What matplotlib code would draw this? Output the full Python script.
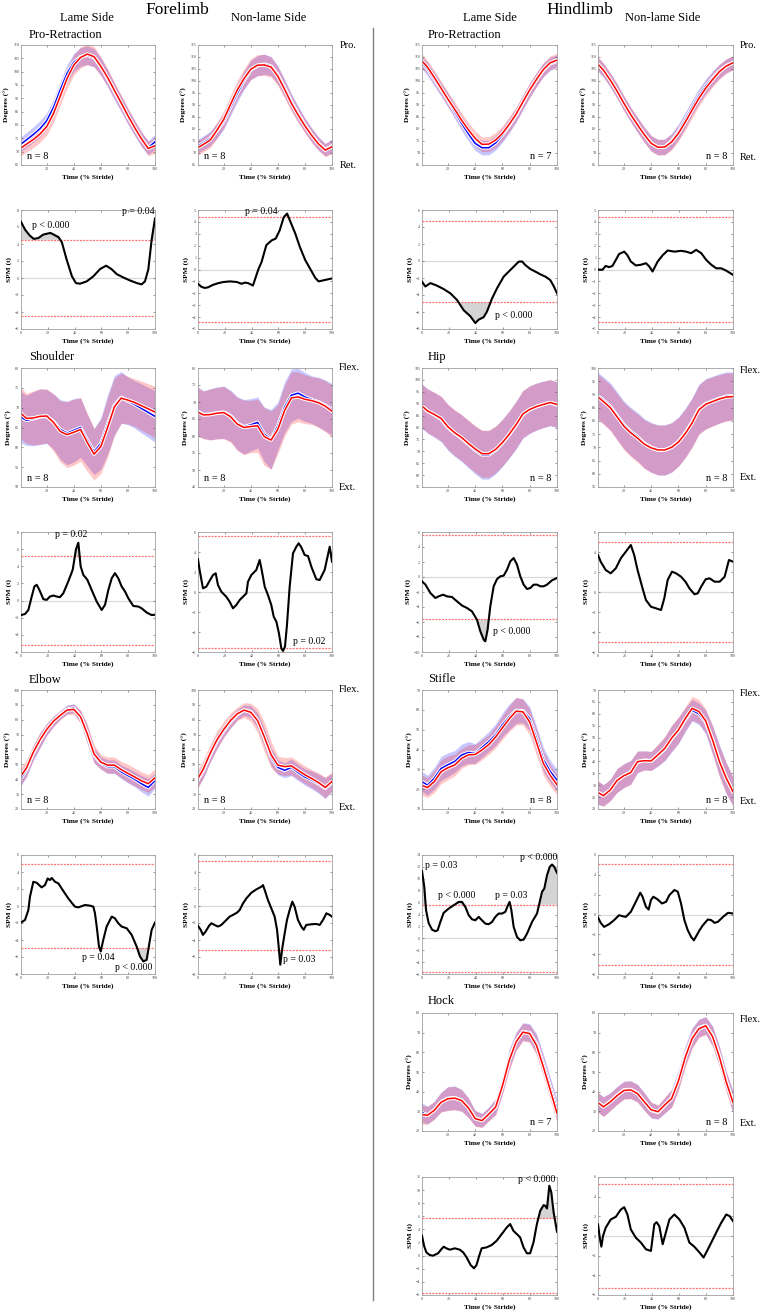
import numpy as np
import matplotlib
matplotlib.use("Agg")
import matplotlib.pyplot as plt
import matplotlib.patheffects as pe
from matplotlib.lines import Line2D

plt.rcParams['font.family'] = ['Liberation Serif', 'DejaVu Serif']

# ------------------------------------------------------------------ data
stride = [0, 5, 10, 15, 20, 25, 30, 35, 40, 45, 50, 55, 60, 65, 70, 75, 80, 85, 90, 95, 100]

# Forelimb pro-retraction
fl_pro_lame_blue = [72.5, 74.4, 76.4, 78.6, 81.6, 86.6, 93.2, 99.3, 103.5, 105.6, 106.2, 105.2, 101.9, 97.5, 92.5, 87.9, 83.1, 78.8, 74.6, 71.5, 73.7]
fl_pro_lame_red = [71.0, 72.8, 74.5, 76.6, 79.4, 84.3, 90.8, 97.4, 102.5, 105.3, 106.6, 105.6, 102.0, 97.8, 93.0, 88.3, 83.5, 79.0, 74.8, 71.2, 72.2]
fl_pro_lame_sd_blue = [2.8, 2.8, 2.9, 3.0, 3.0, 3.1, 3.2, 3.3, 3.4, 3.5, 3.5, 3.4, 3.3, 3.2, 3.1, 3.0, 2.9, 2.8, 2.7, 2.6, 2.8]
fl_pro_lame_sd_red = [2.9, 2.9, 3.0, 3.1, 3.2, 3.3, 3.4, 3.6, 3.8, 3.9, 4.0, 3.8, 3.5, 3.3, 3.1, 3.0, 2.9, 2.8, 2.7, 2.7, 2.9]
fl_pro_sound_blue = [72.6, 74.2, 76.1, 79.3, 83.1, 89.0, 94.9, 100.2, 104.6, 106.4, 107.0, 106.2, 102.5, 97.2, 91.4, 86.3, 81.7, 77.5, 74.0, 71.4, 73.0]
fl_pro_sound_red = [71.9, 73.6, 75.4, 79.5, 84.0, 90.2, 96.3, 101.0, 104.9, 106.6, 106.7, 105.8, 102.0, 96.5, 90.7, 85.8, 81.3, 77.3, 73.8, 71.2, 72.6]
fl_pro_sound_sd_blue = [2.8, 2.9, 3.0, 3.1, 3.2, 3.4, 3.6, 3.8, 4.0, 4.2, 4.2, 4.0, 3.8, 3.6, 3.4, 3.2, 3.0, 2.9, 2.8, 2.6, 2.8]
fl_pro_sound_sd_red = [3.0, 3.1, 3.2, 3.3, 3.5, 3.7, 3.9, 4.1, 4.3, 4.4, 4.4, 4.2, 4.0, 3.7, 3.4, 3.2, 3.0, 2.9, 2.8, 2.7, 3.0]

# Hindlimb pro-retraction
hl_pro_lame_blue = [108.3, 105.0, 100.7, 96.5, 92.1, 87.2, 82.4, 78.0, 74.0, 72.2, 72.2, 74.2, 77.5, 81.5, 85.8, 91.0, 96.2, 100.6, 104.6, 107.2, 108.3]
hl_pro_lame_red = [109.0, 105.8, 101.5, 97.0, 92.4, 88.2, 83.7, 79.7, 76.1, 73.6, 73.7, 75.4, 78.2, 82.0, 86.2, 91.3, 96.3, 100.7, 104.8, 107.6, 108.7]
hl_pro_lame_sd_blue = [2.6, 2.7, 2.8, 2.8, 2.9, 2.9, 3.0, 3.0, 3.0, 3.0, 3.0, 3.0, 3.0, 3.0, 3.0, 3.0, 3.0, 2.9, 2.8, 2.7, 2.6]
hl_pro_lame_sd_red = [2.8, 2.8, 2.9, 2.9, 3.0, 3.0, 3.0, 3.0, 3.1, 3.1, 3.1, 3.1, 3.1, 3.1, 3.0, 3.0, 3.0, 3.0, 2.9, 2.9, 2.8]
hl_pro_sound_blue = [107.6, 104.5, 100.4, 95.8, 90.7, 86.0, 81.7, 77.6, 74.0, 72.4, 72.6, 75.0, 78.9, 83.8, 89.0, 93.8, 97.9, 101.2, 104.1, 106.3, 107.6]
hl_pro_sound_red = [107.6, 104.5, 100.4, 95.8, 90.7, 86.0, 81.7, 77.6, 74.0, 72.4, 72.5, 74.6, 78.2, 82.9, 87.9, 92.8, 97.0, 100.6, 103.9, 106.2, 107.6]
hl_pro_sound_sd_blue = [2.8, 2.8, 2.9, 3.0, 3.0, 3.0, 3.1, 3.1, 3.2, 3.2, 3.2, 3.2, 3.2, 3.2, 3.1, 3.1, 3.0, 3.0, 2.9, 2.9, 2.8]
hl_pro_sound_sd_red = [3.0, 3.0, 3.0, 3.1, 3.1, 3.1, 3.2, 3.2, 3.3, 3.3, 3.3, 3.3, 3.3, 3.3, 3.3, 3.2, 3.2, 3.1, 3.1, 3.0, 3.0]

# Shoulder
shoulder_lame_blue = [67.8, 66.8, 67.2, 67.7, 67.8, 66.5, 64.5, 63.6, 64.3, 65.0, 61.8, 58.9, 61.0, 65.8, 70.6, 72.6, 71.7, 70.8, 69.8, 68.8, 67.8]
shoulder_lame_red = [68.9, 67.3, 67.4, 67.8, 67.9, 66.3, 64.0, 63.2, 63.8, 64.5, 61.2, 58.3, 60.2, 65.0, 70.2, 72.4, 71.9, 71.3, 70.5, 69.7, 68.9]
shoulder_lame_sd_blue = [6.5, 6.3, 6.8, 7.0, 6.8, 7.0, 7.5, 8.0, 8.0, 7.5, 6.5, 5.8, 6.5, 7.5, 7.5, 6.5, 6.0, 6.0, 6.2, 6.3, 6.5]
shoulder_lame_sd_red = [6.5, 6.3, 6.8, 7.0, 6.8, 7.2, 7.7, 8.3, 8.3, 8.0, 7.3, 6.5, 6.8, 7.5, 7.3, 6.3, 6.0, 6.0, 6.2, 6.3, 6.5]
shoulder_sound_blue = [67.5, 66.3, 66.4, 66.8, 67.0, 66.0, 63.8, 62.7, 63.3, 64.0, 60.5, 59.0, 63.0, 68.5, 72.0, 72.6, 71.5, 70.7, 70.0, 69.0, 67.8]
shoulder_sound_red = [67.2, 66.2, 66.3, 66.7, 66.9, 65.7, 63.5, 62.5, 62.8, 63.0, 59.8, 58.8, 62.0, 67.5, 71.2, 71.5, 70.8, 70.4, 69.8, 68.8, 67.3]
shoulder_sound_sd_blue = [7.2, 7.0, 7.5, 7.6, 7.7, 7.5, 7.8, 8.0, 7.7, 7.5, 8.0, 8.8, 7.0, 7.5, 7.7, 7.3, 7.2, 7.0, 7.3, 7.5, 7.6]
shoulder_sound_sd_red = [7.2, 7.0, 7.5, 7.6, 7.7, 7.5, 7.8, 8.0, 7.7, 7.8, 8.5, 8.5, 7.2, 7.5, 7.7, 7.3, 7.2, 7.0, 7.3, 7.5, 7.6]

# Hip
hip_lame_blue = [89.5, 87.0, 85.3, 83.5, 80.0, 77.5, 75.5, 73.0, 70.5, 68.5, 68.5, 70.5, 73.5, 77.0, 81.0, 85.5, 87.5, 88.8, 89.7, 90.4, 89.5]
hip_lame_red = [89.5, 87.0, 85.5, 83.8, 80.3, 77.8, 75.8, 73.3, 71.0, 69.0, 69.0, 70.8, 73.7, 77.2, 81.2, 85.7, 87.6, 88.8, 89.7, 90.5, 89.7]
hip_lame_sd_blue = [9.3, 9.3, 9.4, 9.5, 9.6, 9.7, 9.8, 9.9, 10.0, 10.2, 10.2, 10.0, 9.9, 9.9, 10.0, 10.0, 10.0, 9.9, 9.8, 9.7, 9.6]
hip_lame_sd_red = [9.2, 9.2, 9.3, 9.4, 9.5, 9.6, 9.7, 9.8, 9.8, 9.9, 9.9, 9.8, 9.8, 9.8, 9.9, 9.9, 9.9, 9.8, 9.7, 9.6, 9.5]
hip_sound_blue = [90.0, 87.8, 85.5, 82.0, 78.5, 76.0, 74.0, 71.5, 70.0, 69.0, 69.0, 70.0, 72.2, 75.5, 79.5, 84.5, 86.5, 87.5, 88.5, 89.3, 89.5]
hip_sound_red = [89.5, 87.3, 85.0, 81.5, 78.0, 75.5, 73.5, 71.2, 69.8, 69.0, 69.0, 70.0, 72.0, 75.2, 79.2, 84.2, 86.3, 87.3, 88.3, 89.0, 89.2]
hip_sound_sd_blue = [8.8, 8.8, 8.9, 9.0, 9.0, 9.1, 9.2, 9.3, 9.4, 9.5, 9.5, 9.4, 9.3, 9.3, 9.3, 9.4, 9.5, 9.4, 9.3, 9.2, 9.0]
hip_sound_sd_red = [8.6, 8.6, 8.7, 8.8, 8.9, 9.0, 9.1, 9.2, 9.3, 9.4, 9.4, 9.3, 9.2, 9.2, 9.2, 9.3, 9.4, 9.3, 9.2, 9.1, 8.9]

# Elbow
elbow_lame_blue = [39.0, 46.5, 57.5, 66.0, 73.5, 79.0, 83.5, 87.0, 87.8, 82.0, 70.0, 56.0, 51.0, 48.5, 48.5, 45.0, 42.5, 40.0, 37.0, 34.5, 39.0]
elbow_lame_red = [41.0, 47.5, 58.0, 66.5, 73.5, 79.0, 83.0, 86.5, 87.0, 82.0, 70.5, 57.0, 51.5, 49.5, 49.5, 46.5, 44.0, 41.5, 39.0, 37.0, 41.0]
elbow_lame_sd_blue = [5.0, 5.0, 5.0, 5.0, 4.0, 3.5, 3.0, 3.0, 3.0, 4.0, 6.0, 5.0, 4.0, 4.5, 4.5, 4.5, 5.0, 5.0, 5.5, 6.0, 5.0]
elbow_lame_sd_red = [6.0, 5.5, 5.0, 5.0, 4.0, 3.5, 3.0, 3.0, 3.5, 4.5, 6.5, 6.0, 5.0, 5.5, 5.5, 5.5, 6.0, 6.0, 6.0, 6.0, 6.0]
elbow_sound_blue = [38.0, 46.0, 56.5, 65.5, 72.5, 78.5, 83.5, 86.5, 85.5, 79.5, 68.0, 55.0, 48.0, 46.0, 48.0, 44.5, 41.5, 39.5, 37.0, 34.0, 38.0]
elbow_sound_red = [39.0, 47.0, 57.5, 66.5, 73.5, 79.5, 84.0, 86.5, 85.0, 79.5, 68.5, 56.5, 49.5, 48.5, 49.0, 46.0, 43.0, 40.5, 37.8, 34.5, 38.5]
elbow_sound_sd_blue = [5.0, 5.0, 5.0, 5.0, 4.0, 4.0, 3.5, 3.5, 4.0, 5.0, 6.0, 6.0, 5.0, 5.0, 5.5, 5.5, 5.5, 6.0, 6.5, 7.0, 6.0]
elbow_sound_sd_red = [6.0, 6.0, 6.0, 6.0, 5.5, 5.0, 4.5, 5.0, 6.0, 8.0, 10.0, 9.0, 6.0, 6.0, 6.0, 6.0, 6.0, 6.0, 6.5, 7.0, 6.5]

# Stifle
stifle_lame_blue = [24.3, 22.0, 25.5, 30.5, 32.3, 34.0, 37.2, 38.5, 38.0, 41.0, 44.0, 47.5, 52.5, 56.5, 59.7, 59.5, 55.5, 45.5, 35.0, 29.0, 24.5]
stifle_lame_red = [22.2, 20.8, 23.8, 28.8, 30.8, 32.2, 35.5, 37.3, 37.5, 39.8, 42.5, 46.3, 51.0, 55.5, 59.3, 59.0, 53.8, 43.5, 33.0, 27.0, 22.2]
stifle_lame_sd_blue = [5.0, 5.0, 5.5, 6.0, 6.0, 5.5, 5.5, 5.5, 5.0, 5.0, 5.0, 5.5, 6.0, 6.5, 6.5, 6.0, 6.0, 6.0, 6.0, 5.5, 5.5]
stifle_lame_sd_red = [5.0, 5.0, 5.5, 6.0, 6.0, 5.5, 5.0, 5.0, 5.0, 5.0, 5.0, 5.5, 6.0, 6.5, 7.0, 6.5, 6.5, 6.5, 6.0, 5.5, 5.0]
stifle_sound_blue = [27.0, 25.8, 28.0, 32.0, 34.0, 35.5, 39.8, 40.5, 40.2, 42.5, 45.3, 49.5, 53.0, 57.5, 61.5, 60.0, 56.5, 49.0, 40.5, 33.0, 27.5]
stifle_sound_red = [27.3, 25.6, 28.0, 32.0, 34.0, 35.3, 39.9, 40.3, 40.2, 42.8, 45.5, 49.8, 53.2, 58.0, 62.3, 61.0, 57.0, 49.0, 40.0, 33.0, 27.3]
stifle_sound_sd_blue = [5.0, 4.5, 4.5, 5.0, 5.0, 5.0, 4.5, 4.0, 4.0, 4.5, 5.0, 5.5, 5.5, 5.0, 4.5, 4.5, 5.0, 6.0, 6.5, 6.5, 6.0]
stifle_sound_sd_red = [5.0, 4.5, 4.5, 5.0, 5.0, 5.0, 4.5, 4.0, 4.0, 4.5, 5.0, 5.5, 5.5, 5.0, 5.0, 5.0, 5.0, 6.0, 6.5, 6.5, 6.0]

# Hock
hock_lame_blue = [29.8, 28.0, 30.6, 34.8, 36.6, 36.9, 35.7, 32.0, 26.5, 25.5, 28.8, 32.5, 43.8, 56.8, 65.8, 70.6, 70.0, 64.5, 54.0, 42.5, 31.0]
hock_lame_red = [28.4, 28.0, 30.5, 34.6, 36.4, 36.7, 35.5, 31.8, 26.3, 25.3, 28.6, 32.2, 43.0, 56.0, 65.3, 70.3, 69.5, 63.5, 52.6, 41.0, 29.0]
hock_lame_sd_blue = [5.0, 4.5, 4.5, 5.0, 6.0, 6.0, 5.5, 5.0, 4.0, 3.5, 3.5, 4.0, 4.5, 5.0, 4.5, 4.5, 4.5, 5.0, 5.0, 5.0, 5.0]
hock_lame_sd_red = [5.0, 4.5, 4.5, 5.0, 6.0, 6.0, 5.5, 5.0, 4.0, 3.5, 3.5, 4.0, 4.5, 5.0, 4.5, 4.5, 4.5, 5.0, 5.0, 5.0, 5.0]
hock_sound_blue = [35.0, 32.5, 35.0, 38.2, 40.9, 41.1, 39.3, 35.0, 30.5, 29.5, 33.0, 36.8, 46.5, 58.5, 67.5, 72.5, 73.7, 68.5, 58.3, 45.5, 34.9]
hock_sound_red = [35.0, 32.3, 34.8, 38.0, 40.6, 40.9, 39.0, 34.8, 30.8, 29.8, 33.3, 36.5, 45.5, 57.5, 67.0, 72.0, 73.5, 68.0, 57.7, 45.0, 34.5]
hock_sound_sd_blue = [5.0, 5.0, 4.5, 4.5, 4.5, 4.5, 4.5, 4.5, 4.0, 3.5, 4.0, 4.5, 5.0, 5.0, 5.0, 4.5, 4.5, 5.0, 5.0, 5.0, 5.5]
hock_sound_sd_red = [5.0, 5.0, 4.5, 4.5, 4.5, 4.5, 4.5, 4.5, 4.0, 3.5, 4.0, 4.5, 5.0, 5.0, 5.0, 4.5, 4.5, 5.0, 5.0, 5.0, 5.5]

# SPM{t} curves
spm_fl_pro_lame_x = [0, 3, 6.5, 9.5, 13, 16.5, 19, 22, 24.5, 28, 30.5, 34, 38, 41, 44, 49, 54, 59, 63.5, 67.5, 71.5, 76.5, 81.5, 86.5, 90, 92.5, 95, 97.5, 100]
spm_fl_pro_lame_t = [6.6, 5.7, 5.0, 4.6, 4.7, 5.1, 5.2, 5.3, 5.1, 4.8, 4.2, 2.2, 0.2, -0.6, -0.67, -0.4, 0.2, 1.05, 1.45, 1.05, 0.45, 0.05, -0.3, -0.6, -0.75, -0.4, 1.0, 4.5, 7.0]
spm_fl_pro_sound_x = [0, 2.5, 5, 7.5, 11, 15, 19, 24, 29, 32.5, 35, 37.5, 41, 45, 47.5, 51, 55, 58, 61, 64, 66.5, 69, 72.5, 76, 80, 84, 87.5, 90, 94, 100]
spm_fl_pro_sound_t = [-1.2, -1.45, -1.55, -1.5, -1.3, -1.15, -1.05, -1.0, -1.05, -1.2, -1.1, -1.15, -1.35, 0.0, 0.65, 2.05, 2.45, 2.6, 3.3, 4.4, 4.7, 4.0, 3.05, 1.9, 0.8, 0.0, -0.7, -1.0, -0.9, -0.75]
spm_hl_pro_lame_x = [0, 2.5, 6.2, 11.1, 16, 21, 26, 30.9, 35.8, 39.5, 42, 45.7, 48.1, 51.9, 55.6, 60.5, 64.2, 67.9, 71.6, 74.1, 76.5, 80.2, 84, 87.7, 91.4, 95, 97.5, 100]
spm_hl_pro_lame_t = [-2.43, -3.0, -2.6, -2.9, -3.3, -3.8, -4.6, -5.8, -6.5, -7.3, -6.9, -6.6, -5.96, -4.4, -3.2, -1.84, -1.25, -0.67, -0.08, -0.05, -0.47, -0.94, -1.25, -1.57, -1.84, -2.24, -2.94, -3.8]
spm_hl_pro_sound_x = [0, 3.2, 5.7, 8.2, 10.7, 13.2, 15.6, 19.4, 21.8, 24.3, 28, 31.8, 35.5, 38, 40.4, 44.2, 47.9, 51.6, 56.6, 61.5, 65.3, 69, 72.7, 76.5, 80.2, 83.9, 87.6, 91.3, 95, 100]
spm_hl_pro_sound_t = [0.0, -0.03, 0.3, 0.2, 0.3, 0.8, 1.3, 1.5, 1.2, 0.67, 0.34, 0.4, 0.53, 0.25, -0.17, 0.67, 1.2, 1.6, 1.5, 1.57, 1.5, 1.37, 1.65, 1.37, 0.8, 0.4, 0.1, 0.1, -0.1, -0.45]
spm_shoulder_lame_x = [0, 3, 5.5, 8, 10, 11.7, 13.7, 16.7, 19.2, 21.6, 24.1, 26.6, 29.1, 31.6, 35.3, 38.6, 41, 42.8, 44.5, 46.5, 49.5, 52.7, 56.5, 60.2, 62.7, 65.2, 67.7, 70.1, 72.6, 75.1, 77.6, 80.1, 83.8, 87.6, 90, 93.8, 97.5, 100]
spm_shoulder_lame_t = [-1.69, -1.57, -1.1, 0.47, 1.65, 1.84, 1.25, 0.16, 0.08, 0.47, 0.59, 0.47, 0.4, 0.86, 2.24, 3.6, 5.96, 6.75, 4.0, 3.0, 2.43, 1.25, -0.12, -1.1, -0.5, 1.25, 2.6, 3.2, 2.6, 1.65, 1.06, 0.27, -0.63, -0.7, -0.9, -1.4, -1.69, -1.65]
spm_shoulder_sound_x = [0, 1.2, 3.7, 6.2, 8.7, 11.2, 13.2, 14.9, 17.4, 21.1, 23.6, 26.1, 28.6, 31.1, 33.6, 36.1, 37.3, 39.8, 43.5, 46, 47.3, 49.8, 52.2, 54.7, 56.5, 58.5, 60.4, 62.2, 63.4, 64.9, 66.4, 68.4, 70.9, 73.4, 75.1, 77.1, 79.6, 82.1, 84.6, 88.3, 90.8, 94.5, 98.3, 100]
spm_shoulder_sound_t = [3.27, 2.2, 0.37, 0.53, 1.13, 1.7, 1.87, 0.7, 0.03, -0.47, -0.97, -1.63, -1.3, -0.8, -0.47, -0.13, 1.03, 1.7, 2.2, 3.2, 2.37, 0.53, -0.3, -1.3, -2.47, -2.97, -4.13, -5.63, -5.9, -5.47, -3.3, 0.53, 3.87, 4.53, 4.87, 4.47, 3.7, 3.6, 2.53, 1.27, 1.2, 2.2, 4.53, 3.03]
spm_hip_lame_x = [0, 2.5, 6.2, 9.9, 12.3, 15.6, 18.5, 22.2, 25.9, 29.6, 33.3, 37, 40.7, 43.2, 45.7, 46.9, 48.6, 50.6, 53.1, 55.6, 58, 60.5, 63, 65.4, 67.9, 70.4, 72.8, 75.3, 77.8, 80.2, 82.7, 85.2, 87.7, 90.1, 92.6, 96.3, 100]
spm_hip_lame_t = [-0.58, -1.0, -2.13, -2.8, -2.58, -2.36, -2.58, -2.67, -3.24, -3.8, -4.13, -4.58, -5.7, -7.24, -8.36, -8.58, -7.0, -3.9, -1.24, -0.27, 0.09, 0.18, 0.98, 2.09, 2.53, 1.64, 0.09, -1.02, -1.6, -1.47, -1.02, -1.02, -1.24, -1.24, -1.02, -0.44, -0.13]
spm_hip_sound_x = [0, 2, 5.7, 9.4, 13.2, 16.9, 20.6, 24.3, 26.8, 29.3, 33, 35.5, 39.2, 42.9, 46.7, 49.1, 51.6, 54.8, 57.8, 61.5, 64.8, 67.7, 71.5, 73.9, 76.4, 79.7, 82.6, 86.4, 90.1, 93.8, 97, 100]
spm_hip_sound_t = [3.7, 3.03, 2.2, 1.87, 2.37, 3.37, 4.03, 4.7, 3.7, 2.2, 0.37, -0.8, -1.47, -1.63, -1.8, -0.63, 1.2, 2.03, 1.87, 1.53, 1.03, 0.37, -0.23, -0.13, 0.53, 1.27, 1.37, 1.03, 1.03, 1.53, 3.2, 3.03]
spm_elbow_lame_x = [0, 3, 5.5, 6.7, 9.2, 11.7, 15.4, 17.9, 19.9, 21.6, 22.9, 25.4, 27.9, 30.3, 32.8, 35.3, 37.8, 40.3, 42.8, 47.8, 51.5, 54, 55.2, 56.5, 58.2, 59.5, 61.4, 63.9, 67.7, 70.1, 72.6, 75.1, 78.9, 82.6, 86.3, 88.8, 91.3, 93.8, 95.8, 97.5, 100]
spm_elbow_lame_t = [-1.95, -1.64, -0.47, 1.09, 2.85, 2.73, 2.19, 2.46, 3.24, 3.05, 3.3, 2.85, 2.66, 2.07, 1.48, 0.9, 0.39, -0.08, -0.16, 0.12, 0.04, -0.08, -0.86, -2.42, -4.77, -5.35, -3.98, -2.42, -1.25, -1.45, -2.03, -2.42, -2.62, -3.4, -4.77, -5.94, -6.52, -6.33, -4.38, -2.81, -1.95]
spm_elbow_sound_x = [0, 2, 3.7, 5.7, 8.2, 10, 12.4, 14.9, 17.4, 19.9, 23.6, 26.1, 29.1, 31.1, 33.6, 36.1, 39.8, 43.5, 47.3, 48.5, 50.2, 52.2, 54.7, 57.2, 59, 60.2, 61.4, 62.9, 64.7, 66.4, 68.4, 70.4, 72.1, 74.6, 77.1, 78.9, 80.8, 84.6, 88.3, 90.8, 93.3, 95.8, 98.3, 100]
spm_elbow_sound_t = [-2.34, -2.8, -3.4, -3.0, -2.34, -2.03, -2.23, -2.42, -2.23, -1.84, -1.25, -1.05, -0.78, -0.47, 0.31, 0.9, 1.56, 1.95, 2.27, 2.46, 1.68, 0.7, -0.27, -1.25, -2.81, -4.77, -6.9, -4.96, -3.2, -1.64, -0.47, 0.51, -0.08, -1.64, -2.42, -2.8, -2.23, -2.15, -2.11, -2.23, -1.64, -0.86, -1.05, -1.25]
spm_stifle_lame_x = [0, 1.7, 3, 4.9, 7.4, 9.9, 11.6, 13.6, 16, 19.8, 23.5, 27.2, 29.6, 32.1, 34.6, 37, 39.5, 42, 44.4, 46.9, 49.4, 51.9, 54.3, 56.8, 59.3, 61.7, 63.7, 64.9, 66.2, 67.9, 70.4, 72.8, 75.3, 77.8, 81.5, 85.2, 87.2, 88.9, 90.6, 92.6, 94.6, 96.3, 98, 100]
spm_stifle_lame_t = [11.3, 8.65, 4.72, 2.58, 1.46, 1.18, 1.35, 2.75, 4.27, 5.0, 5.56, 6.12, 6.12, 5.28, 3.88, 3.2, 3.03, 3.6, 3.03, 2.47, 2.36, 2.75, 3.6, 4.16, 4.16, 4.44, 5.56, 6.12, 4.72, 1.91, 0.22, -0.34, -0.22, 0.79, 2.75, 4.16, 6.12, 7.8, 8.37, 10.6, 12.0, 12.4, 12.0, 11.0]
spm_stifle_sound_x = [0, 2, 4.5, 8.2, 11.9, 15.6, 18.1, 20.6, 24.3, 28, 31.3, 33, 35.5, 37.5, 39.2, 41, 44.2, 47.4, 50.4, 52.9, 56.6, 59.1, 61.5, 64, 66.5, 69, 71, 72.7, 75.2, 77.7, 81.4, 83.9, 86.4, 88.8, 92.6, 96.3, 100]
spm_stifle_sound_t = [-0.3, -0.84, -1.25, -0.98, -0.57, -0.07, -0.17, -0.24, 0.27, 1.28, 2.2, 1.79, 0.78, 0.5, 1.45, 1.79, 1.52, 1.11, 1.28, 1.96, 2.47, 2.3, 1.11, -0.57, -1.59, -2.26, -2.6, -2.2, -1.59, -1.08, -0.5, -0.57, -0.84, -0.74, -0.24, 0.17, 0.1]
spm_hock_lame_x = [0, 1.5, 3.2, 5.7, 8.2, 11.9, 14.4, 16.1, 18.1, 20.6, 24.3, 28, 30.5, 33, 36, 38.5, 40.4, 42.4, 44.2, 47.9, 51.6, 55.3, 59.1, 62.8, 65.3, 67.7, 70.2, 72.7, 75.2, 77.7, 80.1, 82.6, 85.1, 87.6, 90.1, 91.3, 92.6, 94.3, 95.8, 97.5, 100]
spm_hock_lame_t = [3.05, 1.52, 0.51, 0.1, 0.0, 0.36, 1.0, 1.37, 1.12, 0.91, 1.12, 0.91, 0.51, -0.25, -1.42, -1.93, -1.42, 0.0, 1.12, 1.27, 1.62, 2.28, 3.3, 4.31, 4.82, 3.8, 3.3, 2.79, 1.27, 0.36, 0.36, 2.03, 4.82, 6.85, 7.72, 7.6, 7.2, 10.66, 9.64, 6.6, 3.65]
spm_hock_sound_x = [0, 1.5, 2.5, 3.7, 5.7, 9.4, 13.2, 16.9, 19.4, 21.8, 24.3, 28, 31.8, 35.5, 39.2, 41.7, 43.4, 45.4, 47.9, 49.9, 52.9, 56.6, 60.3, 64, 67.7, 71.5, 75.2, 78.2, 81.4, 85.1, 88.1, 91.3, 95, 97.5, 100]
spm_hock_sound_t = [1.18, -0.34, -1.08, 0.0, 0.84, 1.68, 1.95, 2.69, 2.93, 2.19, 0.67, -0.17, -0.67, -1.35, -1.52, 1.18, 1.41, 1.0, -0.84, 0.17, 1.68, 2.19, 1.68, 0.84, -0.67, -1.11, -1.68, -2.19, -1.35, -0.34, 0.5, 1.35, 2.19, 2.02, 1.52]

# critical thresholds (upper, lower)
thr_fl_pro_lame = (4.5, -4.5)
thr_fl_pro_sound = (4.45, -4.45)
thr_hl_pro_lame = (4.75, -4.8)
thr_hl_pro_sound = (4.45, -4.45)
thr_shoulder_lame = (5.2, -5.2)
thr_shoulder_sound = (5.6, -5.6)
thr_hip_lame = (5.56, -5.56)
thr_hip_sound = (5.0, -5.0)
thr_elbow_lame = (5.0, -4.96)
thr_elbow_sound = (5.3, -5.23)
thr_stifle_lame = (5.65, -5.65)
thr_stifle_sound = (5.1, -5.1)
thr_hock_lame = (5.7, -5.7)
thr_hock_sound = (5.3, -5.3)

# ------------------------------------------------------------------ layout
W, H = 763, 1312
fig = plt.figure(figsize=(W / 100, H / 100), dpi=100)
fig.patch.set_facecolor('white')

COLS = {1: (21, 155), 2: (198, 332), 3: (422, 557), 4: (598, 733)}
ROWS = {'k1': (45, 165), 's1': (210, 329), 'k2': (368, 487), 's2': (532, 652),
        'k3': (690, 809), 's3': (855, 974), 'k4': (1013, 1131), 's4': (1177, 1295)}
SERIF = ['Liberation Serif', 'DejaVu Serif']


def make_ax(col, row):
    l, r = COLS[col]
    t, b = ROWS[row]
    ax = fig.add_axes([l / W, 1 - b / H, (r - l) / W, (b - t) / H])
    ax.tick_params(direction='in', length=1.5, width=0.4, labelsize=3, pad=1.2,
                   top=True, right=True, colors='#444444')
    for s in ax.spines.values():
        s.set_color('#a0a0a0')
        s.set_linewidth(0.6)
    return ax


def kin_panel(col, row, blue, red, sd_b, sd_r, ylim, ystep, n_text, n_right):
    ax = make_ax(col, row)
    x = np.array(stride, dtype=float)
    b, r = np.array(blue), np.array(red)
    sb, sr = np.array(sd_b), np.array(sd_r)
    ax.fill_between(x, b - sb, b + sb, color=(0.0, 0.0, 1.0), alpha=0.22, lw=0)
    ax.fill_between(x, r - sr, r + sr, color=(1.0, 0.0, 0.0), alpha=0.22, lw=0)
    halo = [pe.withStroke(linewidth=2.6, foreground='white')]
    ax.plot(x, b, color='#0000ff', lw=1.1, path_effects=halo, solid_joinstyle='round')
    ax.plot(x, r, color='#ff0000', lw=1.1, path_effects=halo, solid_joinstyle='round')
    ax.set_xlim(1, 100)
    ax.set_ylim(*ylim)
    ax.set_xticks([20, 40, 60, 80, 100])
    ax.set_yticks(np.arange(ylim[0], ylim[1] + 0.1, ystep))
    ax.set_xlabel('Time (% Stride)', fontsize=5.3, fontweight='bold', labelpad=2.5, family=SERIF)
    ax.set_ylabel('Degrees (°)', fontsize=5.3, fontweight='bold', labelpad=2, family=SERIF)
    if n_right:
        ax.text(0.955, 0.07, n_text, transform=ax.transAxes, ha='right', va='center', fontsize=7.5)
    else:
        ax.text(0.045, 0.07, n_text, transform=ax.transAxes, ha='left', va='center', fontsize=7.5)
    return ax


def spm_panel(col, row, xs, ts, thr, ylim, ystep):
    ax = make_ax(col, row)
    x, t = np.array(xs, dtype=float), np.array(ts, dtype=float)
    ax.axhline(0, color='#d9d9d9', lw=0.9, zorder=1)
    hi, lo = thr
    ax.fill_between(x, t, hi, where=t > hi, interpolate=True, color='#d4d4d4', lw=0, zorder=2)
    ax.fill_between(x, t, lo, where=t < lo, interpolate=True, color='#d4d4d4', lw=0, zorder=2)
    for v in (hi, lo):
        ax.axhline(v, color='#ff7070', lw=0.9, ls=(0, (1.6, 1.0)), zorder=3)
    ax.plot(x, t, color='black', lw=1.5, zorder=4, solid_joinstyle='round')
    ax.set_xlim(0, 100)
    ax.set_ylim(*ylim)
    ax.set_xticks([0, 20, 40, 60, 80, 100])
    ax.set_yticks(np.arange(ylim[0], ylim[1] + 0.1, ystep))
    ax.set_xlabel('Time (% Stride)', fontsize=5.3, fontweight='bold', labelpad=2.5, family=SERIF)
    ax.set_ylabel('SPM (t)', fontsize=5.3, fontweight='bold', labelpad=2, family=SERIF)
    return ax


# ---- forelimb
kin_panel(1, 'k1', fl_pro_lame_blue, fl_pro_lame_red, fl_pro_lame_sd_blue, fl_pro_lame_sd_red, (65, 110), 5, 'n = 8', False)
kin_panel(2, 'k1', fl_pro_sound_blue, fl_pro_sound_red, fl_pro_sound_sd_blue, fl_pro_sound_sd_red, (65, 115), 5, 'n = 8', False)
spm_panel(1, 's1', spm_fl_pro_lame_x, spm_fl_pro_lame_t, thr_fl_pro_lame, (-6, 8), 2)
spm_panel(2, 's1', spm_fl_pro_sound_x, spm_fl_pro_sound_t, thr_fl_pro_sound, (-5, 5), 1)
kin_panel(1, 'k2', shoulder_lame_blue, shoulder_lame_red, shoulder_lame_sd_blue, shoulder_lame_sd_red, (50, 80), 5, 'n = 8', False)
kin_panel(2, 'k2', shoulder_sound_blue, shoulder_sound_red, shoulder_sound_sd_blue, shoulder_sound_sd_red, (45, 80), 5, 'n = 8', False)
spm_panel(1, 's2', spm_shoulder_lame_x, spm_shoulder_lame_t, thr_shoulder_lame, (-6, 8), 2)
spm_panel(2, 's2', spm_shoulder_sound_x, spm_shoulder_sound_t, thr_shoulder_sound, (-6, 6), 2)
kin_panel(1, 'k3', elbow_lame_blue, elbow_lame_red, elbow_lame_sd_blue, elbow_lame_sd_red, (20, 100), 10, 'n = 8', False)
kin_panel(2, 'k3', elbow_sound_blue, elbow_sound_red, elbow_sound_sd_blue, elbow_sound_sd_red, (20, 100), 10, 'n = 8', False)
spm_panel(1, 's3', spm_elbow_lame_x, spm_elbow_lame_t, thr_elbow_lame, (-8, 6), 2)
spm_panel(2, 's3', spm_elbow_sound_x, spm_elbow_sound_t, thr_elbow_sound, (-8, 6), 2)

# ---- hindlimb
kin_panel(3, 'k1', hl_pro_lame_blue, hl_pro_lame_red, hl_pro_lame_sd_blue, hl_pro_lame_sd_red, (65, 115), 5, 'n = 7', True)
kin_panel(4, 'k1', hl_pro_sound_blue, hl_pro_sound_red, hl_pro_sound_sd_blue, hl_pro_sound_sd_red, (65, 115), 5, 'n = 8', True)
spm_panel(3, 's1', spm_hl_pro_lame_x, spm_hl_pro_lame_t, thr_hl_pro_lame, (-8, 6), 2)
spm_panel(4, 's1', spm_hl_pro_sound_x, spm_hl_pro_sound_t, thr_hl_pro_sound, (-5, 5), 1)
kin_panel(3, 'k2', hip_lame_blue, hip_lame_red, hip_lame_sd_blue, hip_lame_sd_red, (55, 105), 5, 'n = 8', True)
kin_panel(4, 'k2', hip_sound_blue, hip_sound_red, hip_sound_sd_blue, hip_sound_sd_red, (55, 100), 5, 'n = 8', True)
spm_panel(3, 's2', spm_hip_lame_x, spm_hip_lame_t, thr_hip_lame, (-10, 6), 2)
spm_panel(4, 's2', spm_hip_sound_x, spm_hip_sound_t, thr_hip_sound, (-6, 6), 2)
kin_panel(3, 'k3', stifle_lame_blue, stifle_lame_red, stifle_lame_sd_blue, stifle_lame_sd_red, (10, 70), 10, 'n = 8', True)
kin_panel(4, 'k3', stifle_sound_blue, stifle_sound_red, stifle_sound_sd_blue, stifle_sound_sd_red, (20, 70), 5, 'n = 8', True)
spm_panel(3, 's3', spm_stifle_lame_x, spm_stifle_lame_t, thr_stifle_lame, (-6, 14), 2)
spm_panel(4, 's3', spm_stifle_sound_x, spm_stifle_sound_t, thr_stifle_sound, (-6, 6), 2)
kin_panel(3, 'k4', hock_lame_blue, hock_lame_red, hock_lame_sd_blue, hock_lame_sd_red, (20, 80), 10, 'n = 7', True)
kin_panel(4, 'k4', hock_sound_blue, hock_sound_red, hock_sound_sd_blue, hock_sound_sd_red, (20, 80), 10, 'n = 8', True)
spm_panel(3, 's4', spm_hock_lame_x, spm_hock_lame_t, thr_hock_lame, (-6, 12), 2)
spm_panel(4, 's4', spm_hock_sound_x, spm_hock_sound_t, thr_hock_sound, (-6, 6), 2)


# ------------------------------------------------------------------ texts
def ftext(x, y, s, size, ha='left', va='center', **kw):
    fig.text(x / W, 1 - y / H, s, fontsize=size, ha=ha, va=va, **kw)


ftext(177, 10, 'Forelimb', 12.5, ha='center')
ftext(580, 10, 'Hindlimb', 12.5, ha='center')
ftext(87, 18, 'Lame Side', 9, ha='center')
ftext(269, 18, 'Non-lame Side', 9, ha='center')
ftext(490, 18, 'Lame Side', 9, ha='center')
ftext(663, 18, 'Non-lame Side', 9, ha='center')

for s, x, y in [('Pro-Retraction', 29, 35), ('Pro-Retraction', 428, 35), ('Shoulder', 29, 357),
                ('Hip', 428, 357), ('Elbow', 29, 680), ('Stifle', 428, 679), ('Hock', 428, 1001)]:
    ftext(x, y, s, 9)

for s, x, y in [('Pro.', 340, 45), ('Ret.', 340, 165), ('Pro.', 740, 45), ('Ret.', 740, 157),
                ('Flex.', 339, 367), ('Ext.', 339, 487), ('Flex.', 740, 371), ('Ext.', 740, 478),
                ('Flex.', 339, 690), ('Ext.', 339, 808), ('Flex.', 740, 694), ('Ext.', 740, 802),
                ('Flex.', 740, 1020), ('Ext.', 740, 1124)]:
    ftext(x, y, s, 7.5)

for s, x, y in [('p < 0.000', 32, 225), ('p = 0.04', 122, 212), ('p = 0.04', 245, 212),
                ('p < 0.000', 495, 316), ('p = 0.02', 55, 535), ('p = 0.02', 293, 641),
                ('p < 0.000', 493, 632), ('p = 0.04', 82, 958), ('p < 0.000', 115, 967),
                ('p = 0.03', 283, 960), ('p = 0.03', 425, 865), ('p < 0.000', 438, 895),
                ('p = 0.03', 495, 895), ('p < 0.000', 520, 857), ('p < 0.000', 518, 1180)]:
    ftext(x, y, s, 7)

fig.add_artist(Line2D([372.5 / W, 372.5 / W], [1 - 28 / H, 1 - 1300 / H], color='#808080', lw=1.0))

fig.savefig('out.png', dpi=100, facecolor='white')
